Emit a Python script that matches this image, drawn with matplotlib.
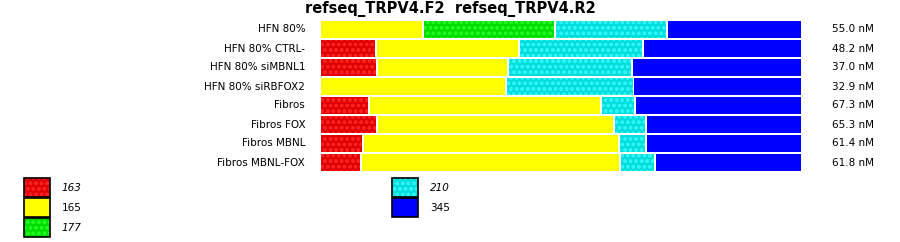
import matplotlib.pyplot as plt
from matplotlib.patches import Rectangle

# data: share of each isoform per sample (percent of bar)
samples = ["HFN 80%", "HFN 80% CTRL-", "HFN 80% siMBNL1", "HFN 80% siRBFOX2",
           "Fibros", "Fibros FOX", "Fibros MBNL", "Fibros MBNL-FOX"]
concentrations = ["55.0 nM", "48.2 nM", "37.0 nM", "32.9 nM",
                  "67.3 nM", "65.3 nM", "61.4 nM", "61.8 nM"]
seg_163 = [0, 11.7, 11.9, 0, 10.2, 11.9, 9.0, 8.5]
seg_165 = [21.5, 29.8, 27.3, 38.8, 48.4, 49.4, 53.3, 54.0]
seg_177 = [27.5, 0, 0, 0, 0, 0, 0, 0]
seg_210 = [23.3, 25.8, 25.8, 26.5, 7.1, 6.7, 5.6, 7.3]
seg_345 = [27.7, 32.7, 35.0, 34.8, 34.3, 32.1, 32.1, 30.2]

series_names = ["163", "165", "177", "210", "345"]
series_values = [seg_163, seg_165, seg_177, seg_210, seg_345]
face_colors = ["#e00000", "#ffff00", "#00dd00", "#00dddd", "#0000ff"]
dot_colors = ["#f82020", None, "#20f820", "#30f4f4", None]
italic = [True, False, True, True, False]

plt.rcParams["hatch.linewidth"] = 1.0

fig = plt.figure(figsize=(9, 2.42), dpi=100)

# background axes in pixel coordinates for legend
bg = fig.add_axes([0, 0, 1, 1])
bg.set_xlim(0, 900)
bg.set_ylim(242, 0)
bg.axis("off")

ax = fig.add_axes([321 / 900, 1 - 172 / 242, 480 / 900, 152 / 242])
ax.set_xlim(0, 100)
ax.set_ylim(len(samples) - 0.5, -0.5)
ax.axis("off")

gap = 0.4
bar_h = 17 / 19
left = [0.0] * len(samples)
for name, vals, fc, dc in zip(series_names, series_values, face_colors, dot_colors):
    for i, v in enumerate(vals):
        if v <= 0:
            continue
        w = v - gap if left[i] + v < 99.9 else v
        if dc:
            ax.barh(i, w, left=left[i], height=bar_h, color=fc, edgecolor=dc,
                    linewidth=0, hatch="ooo")
        else:
            ax.barh(i, w, left=left[i], height=bar_h, color=fc, linewidth=0)
        left[i] += v

for i, (s, c) in enumerate(zip(samples, concentrations)):
    ax.text(-3.3, i, s, ha="right", va="center", fontsize=7.5)
    ax.text(106.5, i, c, ha="left", va="center", fontsize=7.5)

fig.text(0.5, 1 - 9 / 242, "refseq_TRPV4.F2  refseq_TRPV4.R2", ha="center",
         va="center", fontsize=10.5, fontweight="bold")

# legend
legend_pos = [(24, 178), (24, 198), (24, 218), (392, 178), (392, 198)]
for (x, y), name, fc, dc, it in zip(legend_pos, series_names, face_colors, dot_colors, italic):
    if dc:
        r = Rectangle((x, y), 26, 19, facecolor=fc, edgecolor=dc, linewidth=0, hatch="ooo")
        bg.add_patch(r)
    else:
        bg.add_patch(Rectangle((x, y), 26, 19, facecolor=fc, linewidth=0))
    bg.add_patch(Rectangle((x, y), 26, 19, facecolor="none", edgecolor="black", linewidth=1.2))
    bg.text(x + 38, y + 10, name, ha="left", va="center", fontsize=7.5,
            style="italic" if it else "normal")

fig.savefig("out.png", dpi=100)
